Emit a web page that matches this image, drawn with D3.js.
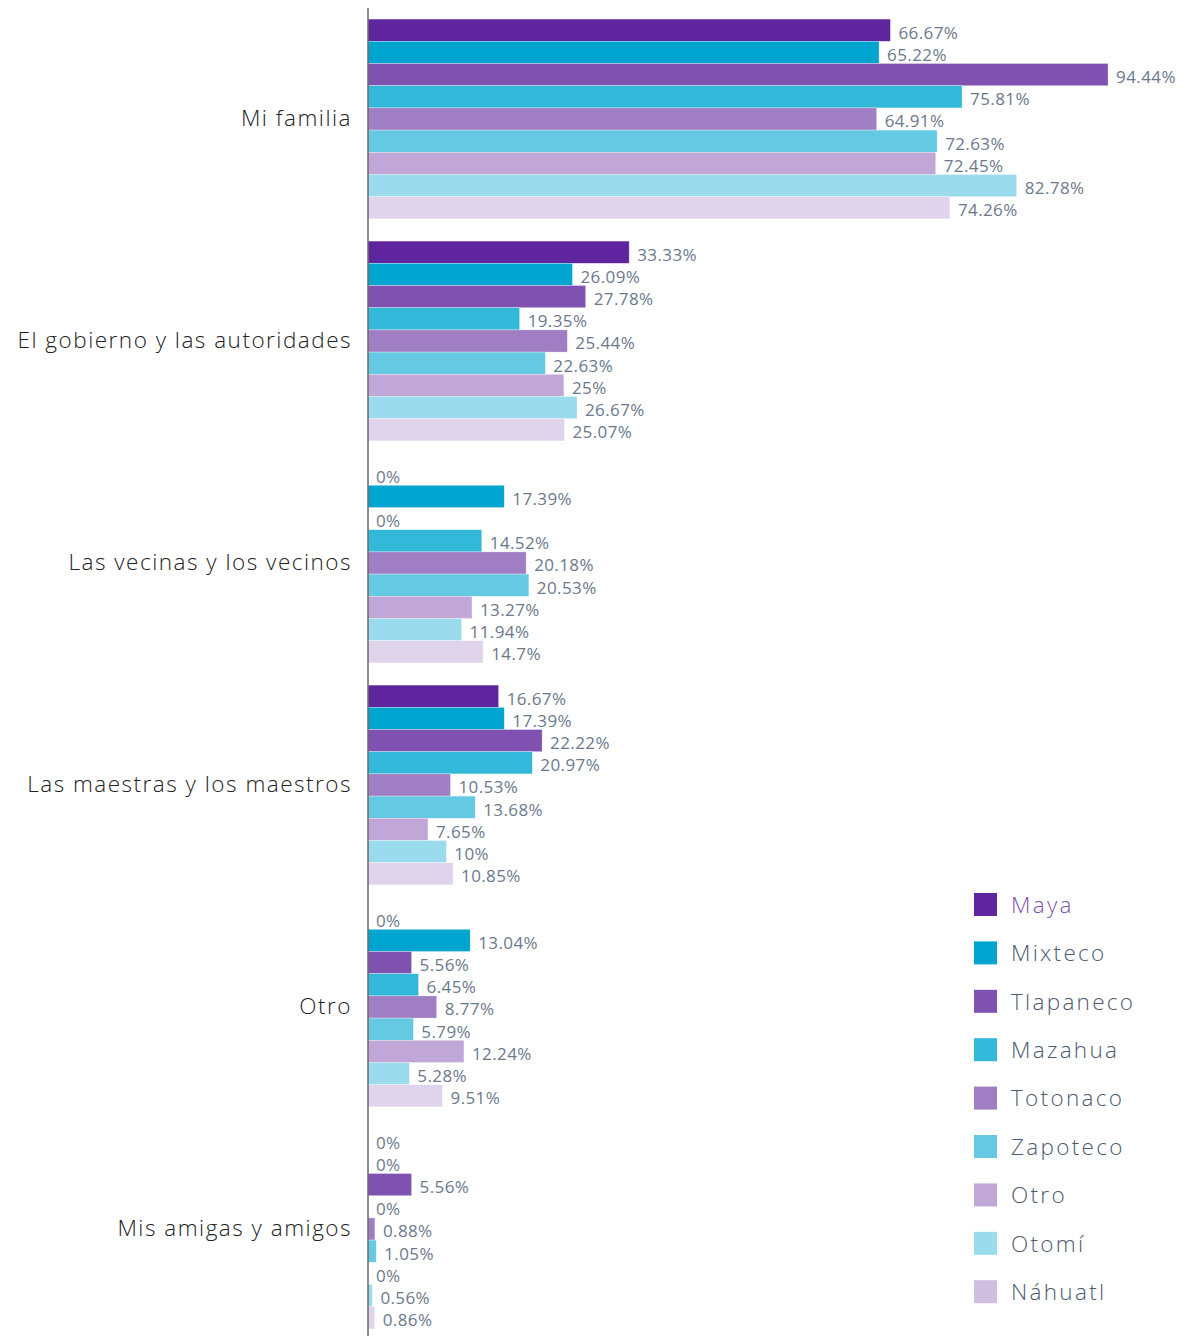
<!DOCTYPE html>
<html>
<head>
<meta charset="utf-8">
<script src="https://cdn.jsdelivr.net/npm/d3@7"></script>
<style>
  html, body { margin: 0; padding: 0; background: #ffffff; }
  svg { display: block; font-family: "Open Sans", "Noto Sans", sans-serif; }
</style>
</head>
<body>
<svg id="chart" width="1188" height="1336"></svg>
<script>
// Who people trust, by indigenous group (percent of respondents)
const categories = [
  "Mi familia",
  "El gobierno y las autoridades",
  "Las vecinas y los vecinos",
  "Las maestras y los maestros",
  "Otro",
  "Mis amigas y amigos"
];

const seriesNames = ["Maya", "Mixteco", "Tlapaneco", "Mazahua", "Totonaco", "Zapoteco", "Otro", "Otomí", "Náhuatl"];
const seriesColors = ["#5f259f", "#00a5cf", "#7f52b1", "#32b8d8", "#a07ec4", "#66c9e3", "#c0a7d7", "#9bdbee", "#e0d4ec"];
const legendColors = ["#5f259f", "#00a5cf", "#7f52b1", "#32b8d8", "#a07ec4", "#66c9e3", "#c0a7d7", "#9bdbee", "#d0bfe1"];

// values[series][category]
const maya      = [66.67, 33.33, 0,     16.67, 0,     0];
const mixteco   = [65.22, 26.09, 17.39, 17.39, 13.04, 0];
const tlapaneco = [94.44, 27.78, 0,     22.22, 5.56,  5.56];
const mazahua   = [75.81, 19.35, 14.52, 20.97, 6.45,  0];
const totonaco  = [64.91, 25.44, 20.18, 10.53, 8.77,  0.88];
const zapoteco  = [72.63, 22.63, 20.53, 13.68, 5.79,  1.05];
const otro      = [72.45, 25,    13.27, 7.65,  12.24, 0];
const otomi     = [82.78, 26.67, 11.94, 10,    5.28,  0.56];
const nahuatl   = [74.26, 25.07, 14.7,  10.85, 9.51,  0.86];

const seriesValues = [maya, mixteco, tlapaneco, mazahua, totonaco, zapoteco, otro, otomi, nahuatl];

const svg = d3.select("#chart");
const x0 = 368;

const x = d3.scaleLinear().domain([0, 100]).range([x0, x0 + 783.6]);
const y = d3.scaleBand().domain(categories).range([8, 1340]).paddingInner(0.1).paddingOuter(0.05);
const yInner = d3.scaleBand().domain(d3.range(seriesNames.length)).range([0, y.bandwidth()]);

const fmt = v => `${v}%`;

const groups = svg.append("g").selectAll("g")
  .data(categories)
  .join("g")
  .attr("transform", d => `translate(0,${y(d)})`);

groups.each(function(cat, ci) {
  const g = d3.select(this);
  const rows = seriesValues.map((vals, si) => ({ si, v: vals[ci] }));

  g.selectAll("rect")
    .data(rows)
    .join("rect")
    .attr("x", x(0))
    .attr("y", d => yInner(d.si))
    .attr("width", d => x(d.v) - x(0))
    .attr("height", yInner.bandwidth())
    .attr("fill", d => seriesColors[d.si])
    .attr("stroke", "#ffffff")
    .attr("stroke-opacity", 0.5)
    .attr("stroke-width", 0.6);

  g.selectAll("text.val")
    .data(rows)
    .join("text")
    .attr("class", "val")
    .attr("x", d => x(d.v) + 8)
    .attr("y", d => yInner(d.si) + yInner.bandwidth() / 2 + 2.5)
    .attr("dy", "0.35em")
    .attr("font-size", 17)
    .attr("letter-spacing", 0.4)
    .attr("fill", "#6b798d")
    .text(d => fmt(d.v));
});

// Category axis on the left
const yAxis = d3.axisLeft(y).tickSize(0).tickPadding(16);
const axisG = svg.append("g")
  .attr("transform", `translate(${x0},0)`)
  .call(yAxis);
axisG.select(".domain").remove();
axisG.selectAll("text")
  .attr("font-size", 22.5)
  .attr("font-weight", 300)
  .attr("font-family", "'Open Sans', sans-serif")
  .attr("letter-spacing", 1.5)
  .attr("fill", "#222222");

svg.append("line")
  .attr("x1", x0).attr("x2", x0)
  .attr("y1", 8).attr("y2", 1336)
  .attr("stroke", "#666666")
  .attr("stroke-width", 1.5);

// Legend
const legend = svg.append("g").attr("transform", "translate(974,893)");
const li = legend.selectAll("g")
  .data(seriesNames)
  .join("g")
  .attr("transform", (d, i) => `translate(0,${i * 48.4})`);
li.append("rect")
  .attr("width", 23).attr("height", 23)
  .attr("fill", (d, i) => legendColors[i]);
li.append("text")
  .attr("x", 37)
  .attr("y", 12)
  .attr("dy", "0.35em")
  .attr("font-size", 22.5)
  .attr("font-weight", 300)
  .attr("letter-spacing", 2.3)
  .attr("fill", (d, i) => i === 0 ? "#7f52b1" : "#4c5b70")
  .text(d => d);
</script>
</body>
</html>
